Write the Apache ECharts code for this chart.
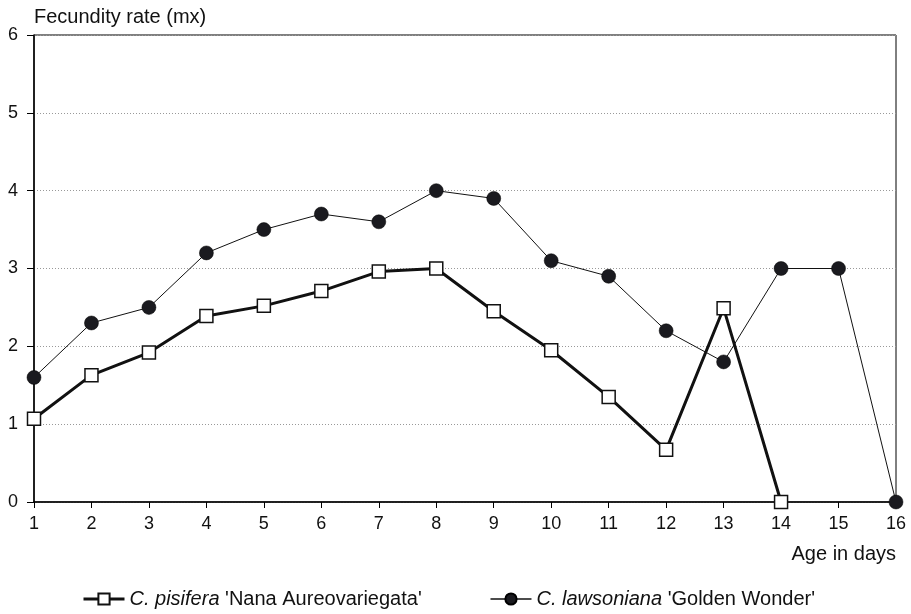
<!DOCTYPE html>
<html><head><meta charset="utf-8">
<script src="https://cdn.jsdelivr.net/npm/echarts@6/dist/echarts.min.js"></script>
<style>html,body{margin:0;padding:0;background:#fff}#c{width:911px;height:614px}</style>
</head><body><div id="c"></div>
<script>
const days = [1,2,3,4,5,6,7,8,9,10,11,12,13,14,15,16];
const pisifera = [1.07,1.63,1.92,2.39,2.52,2.71,2.96,3.0,2.45,1.95,1.35,0.67,2.49,0];
const lawsoniana = [1.6,2.3,2.5,3.2,3.5,3.7,3.6,4.0,3.9,3.1,2.9,2.2,1.8,3.0,3.0,0];
const yTicks = [0,1,2,3,4,5,6];

const font = 'Liberation Sans, Arial, sans-serif';
const chart = echarts.init(document.getElementById('c'));
chart.setOption({
  animation: false,
  grid: {left: 34, right: 15, top: 35, bottom: 112, show: true, borderColor: '#000', borderWidth: 1},
  xAxis: {
    type: 'value', min: days[0], max: days[days.length-1], interval: 1,
    name: 'Age in days', nameLocation: 'end', nameGap: 0,
    nameTextStyle: {color: '#111', fontSize: 20, fontFamily: font, align: 'right', verticalAlign: 'top', padding: [42, 0, 0, 0]},
    axisLine: {lineStyle: {color: '#000', width: 1.5}},
    axisTick: {inside: false, length: 6, lineStyle: {color: '#000'}},
    axisLabel: {color: '#111', fontSize: 18, fontFamily: font, margin: 13},
    splitLine: {show: false}
  },
  yAxis: {
    type: 'value', min: yTicks[0], max: yTicks[yTicks.length-1], interval: 1,
    name: 'Fecundity rate (mx)', nameLocation: 'end', nameGap: 8,
    nameTextStyle: {color: '#111', fontSize: 20, fontFamily: font, align: 'left', padding: [0, 0, 0, 0]},
    axisLine: {show: true, lineStyle: {color: '#000', width: 1.5}},
    axisTick: {show: true, length: 7, lineStyle: {color: '#000'}},
    axisLabel: {color: '#111', fontSize: 18, fontFamily: font, margin: 16},
    splitLine: {show: true, lineStyle: {color: '#999', type: [1, 2], width: 1}}
  },
  legend: {
    top: 584, left: 77, itemGap: 68, itemWidth: 41, itemHeight: 14,
    textStyle: {color: '#111', fontSize: 20, fontFamily: font,
      rich: {i: {fontStyle: 'italic', fontSize: 20, fontFamily: font, color: '#111'},
             n: {fontSize: 20, fontFamily: font, color: '#111'}}},
    formatter: function (name) {
      const parts = name.split('|');
      return '{i|' + parts[0] + '}{n|' + parts[1] + '}';
    },
    data: [
      {name: "C. pisifera| 'Nana Aureovariegata'", lineStyle: {width: 3, color: '#111'}},
      {name: "C. lawsoniana| 'Golden Wonder'", lineStyle: {width: 1.5, color: '#111'}}
    ]
  },
  series: [
    {
      name: "C. pisifera| 'Nana Aureovariegata'", type: 'line',
      data: pisifera.map((v, i) => [days[i], v]),
      symbol: 'rect', symbolSize: 13,
      lineStyle: {color: '#111', width: 3},
      itemStyle: {color: '#fff', borderColor: '#111', borderWidth: 1.5},
      z: 3
    },
    {
      name: "C. lawsoniana| 'Golden Wonder'", type: 'line',
      data: lawsoniana.map((v, i) => [days[i], v]),
      symbol: 'circle', symbolSize: 14,
      lineStyle: {color: '#111', width: 1},
      itemStyle: {color: '#1a1a1f', borderColor: '#000', borderWidth: 0.5},
      z: 2
    }
  ]
});
</script></body></html>
